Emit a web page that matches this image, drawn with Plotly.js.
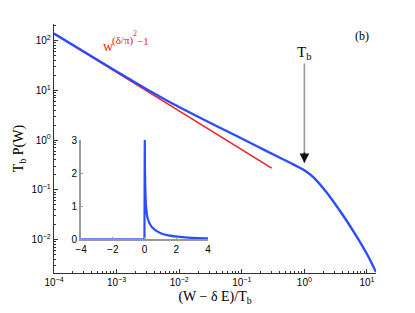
<!DOCTYPE html>
<html>
<head>
<meta charset="utf-8">
<script src="https://cdn.plot.ly/plotly-3.0.1.min.js"></script>
<style>html,body{margin:0;padding:0;background:#fff;}#chart{width:415px;height:313px;}</style>
</head>
<body>
<div id="chart"></div>
<script>
// Main curve T_b P(W) vs (W - δE)/T_b (log-log)
const mainX = [1e-4, 1e-3, 3.18e-3, 7.13e-3, 0.0240, 0.0830, 0.1954, 0.407, 0.665, 1.023, 1.387, 2.27, 3.71, 6.04, 9.89, 13.9];
const mainY = [138, 23.9, 10.1, 5.75, 2.62, 1.203, 0.700, 0.4407, 0.3230, 0.2420, 0.1800, 0.0881, 0.0374, 0.01482, 0.00523, 0.00222];
// Power law w^((δ/π)^2 - 1)
const fitX = [1e-4, 0.30];
const fitY = [138, 0.272];
// Inset (linear)
const insetX = [0, 0.02, 0.03, 0.05, 0.1, 0.2, 0.43, 0.7, 1.06, 1.5, 2.1, 3, 4];
const insetY = [0, 3, 2.2, 1.6, 1.0, 0.63, 0.38, 0.26, 0.17, 0.11, 0.07, 0.035, 0.02];
const insetNegX = [-4, 0];
const insetNegY = [0, 0];
// Tick labels
const mainXTickVals = [1e-4, 1e-3, 1e-2, 1e-1, 1, 10];
const mainXTickText = ['10<sup>\u22124</sup>', '10<sup>\u22123</sup>', '10<sup>\u22122</sup>', '10<sup>\u22121</sup>', '10<sup>0</sup>', '10<sup>1</sup>'];
const mainYTickVals = [1e-2, 1e-1, 1, 10, 100];
const mainYTickText = ['10<sup>\u22122</sup>', '10<sup>\u22121</sup>', '10<sup>0</sup>', '10<sup>1</sup>', '10<sup>2</sup>'];
const insetXTickVals = [-4, -2, 0, 2, 4];
const insetYTickVals = [0, 1, 2, 3];

const serif = "Liberation Serif, Times New Roman, serif";
const sans = "Liberation Sans, Arial, sans-serif";
const red = '#ee2222';
const blue = '#2c4cff';

const traces = [
  {x: fitX, y: fitY, mode: 'lines', line: {color: red, width: 1.6}, xaxis: 'x', yaxis: 'y'},
  {x: mainX, y: mainY, mode: 'lines', line: {color: blue, width: 2.4, shape: 'spline', smoothing: 1}, xaxis: 'x', yaxis: 'y'},
  {x: insetNegX, y: insetNegY, mode: 'lines', line: {color: '#7585f5', width: 2.2}, xaxis: 'x2', yaxis: 'y2'},
  {x: insetX, y: insetY, mode: 'lines', line: {color: blue, width: 2.2, shape: 'spline', smoothing: 0.6}, xaxis: 'x2', yaxis: 'y2'}
];

function pap(px, py) { return {x: (px - 54) / 322, y: (273 - py) / 249}; }

const wPos = pap(102, 46), dPos = pap(111, 40), twoPos = pap(132, 33), m1Pos = pap(135.5, 40.5), bPos = pap(362, 36);

const layout = {
  width: 415, height: 313,
  margin: {l: 54, r: 39, t: 24, b: 40},
  paper_bgcolor: '#fff', plot_bgcolor: 'rgba(0,0,0,0)',
  showlegend: false,
  font: {family: sans, size: 10, color: '#000'},
  xaxis: {
    type: 'log', range: [-4, 1.144], tickvals: mainXTickVals, ticktext: mainXTickText,
    showgrid: false, zeroline: false, showline: true, linecolor: '#333', linewidth: 1.3,
    ticks: 'inside', ticklen: 4, tickcolor: '#333', tickwidth: 1,
    minor: {ticks: 'inside', ticklen: 2, tickcolor: '#333', dtick: 'D1', showgrid: false},
    tickfont: {family: sans, size: 10},
    title: {text: '(W \u2212 \u03b4 E)/T<sub>b</sub>', font: {family: serif, size: 14}, standoff: 4}
  },
  yaxis: {
    type: 'log', range: [-2.673, 2.332], tickvals: mainYTickVals, ticktext: mainYTickText,
    showgrid: false, zeroline: false, showline: true, linecolor: '#333', linewidth: 1.3,
    ticks: 'inside', ticklen: 4, tickcolor: '#333', tickwidth: 1,
    minor: {ticks: 'inside', ticklen: 2, tickcolor: '#333', dtick: 'D1', showgrid: false},
    tickfont: {family: sans, size: 10},
    title: {text: 'T<sub>b</sub> P(W)', font: {family: serif, size: 14}, standoff: 4}
  },
  xaxis2: {
    domain: [0.0839, 0.478], anchor: 'y2', range: [-4, 4], tickvals: insetXTickVals,
    showgrid: false, zeroline: false, showline: true, linecolor: '#999', linewidth: 2,
    ticks: 'inside', ticklen: 2, tickcolor: '#999',
    tickfont: {family: sans, size: 10}
  },
  yaxis2: {
    domain: [0.1365, 0.534], anchor: 'x2', range: [0, 3], tickvals: insetYTickVals,
    showgrid: false, zeroline: false, showline: true, linecolor: '#999', linewidth: 2,
    ticks: 'inside', ticklen: 2, tickcolor: '#999',
    tickfont: {family: sans, size: 10}
  },
  annotations: [
    {xref: 'paper', yref: 'paper', x: wPos.x, y: wPos.y, xanchor: 'left', yanchor: 'middle',
     text: 'w', showarrow: false, borderpad: 0, font: {family: serif, size: 14, color: red}},
    {xref: 'paper', yref: 'paper', x: dPos.x, y: dPos.y, xanchor: 'left', yanchor: 'middle',
     text: '(\u03b4/\u03c0)', showarrow: false, borderpad: 0, font: {family: serif, size: 11, color: red}},
    {xref: 'paper', yref: 'paper', x: twoPos.x, y: twoPos.y, xanchor: 'left', yanchor: 'middle',
     text: '2', showarrow: false, borderpad: 0, font: {family: serif, size: 8, color: red}},
    {xref: 'paper', yref: 'paper', x: m1Pos.x, y: m1Pos.y, xanchor: 'left', yanchor: 'middle',
     text: '\u22121', showarrow: false, borderpad: 0, font: {family: serif, size: 11, color: red}},
    {xref: 'paper', yref: 'paper', x: bPos.x, y: bPos.y, xanchor: 'center', yanchor: 'middle',
     text: '(b)', showarrow: false, font: {family: serif, size: 12, color: '#000'}},
    {xref: 'x', yref: 'y', x: 0, y: -0.462, text: 'T<sub>b</sub>', showarrow: true,
     ax: 0, ay: -110, arrowhead: 0, arrowwidth: 1.6, arrowcolor: '#999',
     font: {family: serif, size: 15, color: '#000'}},
    {xref: 'x', yref: 'y', x: 0, y: -0.462, text: '', showarrow: true,
     ax: 0, ay: -12, arrowhead: 2, arrowsize: 1.2, arrowwidth: 1.6, arrowcolor: '#111'}
  ]
};

Plotly.newPlot('chart', traces, layout, {staticPlot: true, displayModeBar: false});
</script>
</body>
</html>
